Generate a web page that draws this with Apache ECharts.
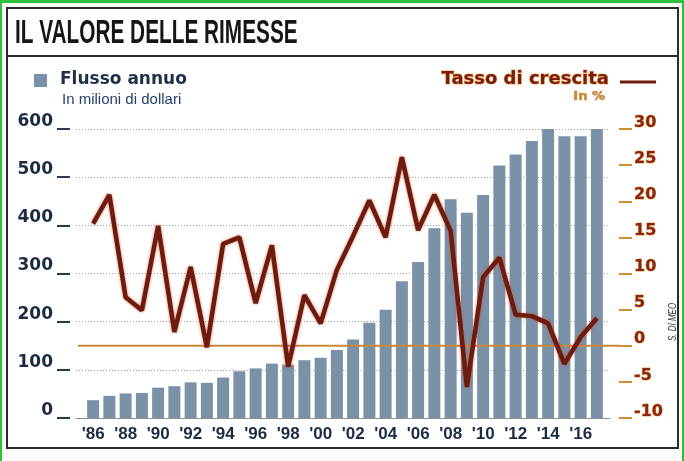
<!DOCTYPE html>
<html>
<head>
<meta charset="utf-8">
<script src="https://cdn.jsdelivr.net/npm/echarts@6/dist/echarts.min.js"></script>
<style>
  html, body { margin: 0; padding: 0; background: #fbfbf7; }
  #chart { width: 684px; height: 461px; }
</style>
</head>
<body>
<div id="chart"></div>
<script>
// Years 1986-2017
const years = ["'86","'87","'88","'89","'90","'91","'92","'93","'94","'95","'96","'97","'98","'99","'00","'01",
               "'02","'03","'04","'05","'06","'07","'08","'09","'10","'11","'12","'13","'14","'15","'16","'17"];

// Annual flow, millions of dollars (left axis)
const flows = [37, 46, 51, 52, 63, 66, 74, 73, 84, 97, 103, 113, 111, 120, 125, 141,
               163, 198, 225, 284, 324, 394, 454, 426, 463, 524, 547, 575, 601, 585, 585, 604];

// Growth rate, % (right axis)
const growth = [16.9, 20.9, 6.7, 4.9, 16.6, 1.9, 10.9, -0.2, 14.1, 15.0, 5.9, 13.9, -2.9, 7.0, 3.1, 10.5,
                15.2, 20.1, 15.0, 26.1, 16.0, 20.9, 15.9, -5.7, 9.5, 12.2, 4.3, 4.1, 3.1, -2.5, 1.2, 3.8];

// Axis ranges
const flowTicks = [0, 100, 200, 300, 400, 500, 600];
const rateTicks = [-10, -5, 0, 5, 10, 15, 20, 25, 30];

const NAVY = '#1c2b44';
const BROWN = '#6e1b0f';
const ORANGE = '#d38d33';
const PLOT_TOP = 129, PLOT_H = 289;

const chart = echarts.init(document.getElementById('chart'), null, { renderer: 'canvas' });

chart.setOption({
  backgroundColor: '#fbfbf7',
  animation: false,
  grid: [
    { left: 85, width: 520, top: PLOT_TOP, height: PLOT_H },   // bars + line
    { left: 76, width: 534, top: PLOT_TOP, height: PLOT_H },   // dotted gridlines
    { left: 78, width: 542, top: PLOT_TOP, height: PLOT_H }    // zero-growth line
  ],
  xAxis: [
    {
      gridIndex: 0, type: 'category', data: years,
      axisLine: { show: false }, axisTick: { show: false },
      axisLabel: {
        interval: 1, margin: 8, color: NAVY,
        fontFamily: 'Liberation Sans', fontWeight: 'bold', fontSize: 17
      }
    },
    {
      gridIndex: 1, type: 'value', min: 0, max: 1,
      axisLine: { show: true, lineStyle: { color: '#8a8f96', width: 1 } },
      axisTick: { show: false }, axisLabel: { show: false }, splitLine: { show: false }
    },
    {
      gridIndex: 2, type: 'value', min: 0, max: 1, show: false
    }
  ],
  yAxis: [
    {
      gridIndex: 0, type: 'value', position: 'left', offset: 15,
      min: flowTicks[0], max: flowTicks[flowTicks.length - 1], interval: flowTicks[1] - flowTicks[0],
      axisLine: { show: false },
      axisTick: { show: true, length: 13, lineStyle: { color: '#2b3a52', width: 2 } },
      axisLabel: {
        margin: 17, color: NAVY, fontFamily: 'DejaVu Sans', fontWeight: 'bold', fontSize: 17,
        verticalAlign: 'bottom', lineHeight: 15
      },
      splitLine: { show: false }
    },
    {
      gridIndex: 0, type: 'value', position: 'right', offset: 14,
      min: rateTicks[0], max: rateTicks[rateTicks.length - 1], interval: rateTicks[1] - rateTicks[0],
      axisLine: { show: false },
      axisTick: { show: true, length: 13, lineStyle: { color: ORANGE, width: 2 } },
      axisLabel: {
        margin: 15, color: '#8a2511', fontFamily: 'DejaVu Sans', fontWeight: 'bold', fontSize: 16,
        textBorderColor: 'rgba(235,150,50,0.85)', textBorderWidth: 1,
        verticalAlign: 'bottom', lineHeight: 13
      },
      splitLine: { show: false }
    },
    {
      gridIndex: 1, type: 'value',
      min: flowTicks[0], max: flowTicks[flowTicks.length - 1], interval: flowTicks[1] - flowTicks[0],
      axisLine: { show: false }, axisTick: { show: false }, axisLabel: { show: false },
      splitLine: { show: true, lineStyle: { color: '#9ca0a6', width: 1, type: [1, 2] } }
    },
    {
      gridIndex: 2, type: 'value',
      min: rateTicks[0], max: rateTicks[rateTicks.length - 1], show: false, splitLine: { show: false }
    }
  ],
  series: [
    {
      name: 'Flusso annuo', type: 'bar', xAxisIndex: 0, yAxisIndex: 0,
      data: flows, barWidth: 12, z: 2,
      itemStyle: { color: '#7b91a8' }
    },
    {
      name: 'Zero', type: 'line', xAxisIndex: 2, yAxisIndex: 3,
      data: [[0, 0], [1, 0]], symbol: 'none', silent: true, z: 3,
      lineStyle: { color: '#c8873a', width: 2 }
    },
    {
      name: 'Tasso di crescita', type: 'line', xAxisIndex: 0, yAxisIndex: 1,
      data: growth, symbol: 'none', z: 4,
      lineStyle: {
        color: BROWN, width: 4.5,
        shadowColor: 'rgba(200,70,25,0.75)', shadowBlur: 3
      }
    }
  ],
  graphic: [
    // page border and frame
    { type: 'rect', shape: { x: 0, y: 0, width: 684, height: 3 }, style: { fill: '#2cc23b' }, silent: true },
    { type: 'rect', shape: { x: 0, y: 0, width: 2, height: 461 }, style: { fill: '#2cc23b' }, silent: true },
    { type: 'rect', shape: { x: 682, y: 0, width: 2, height: 461 }, style: { fill: '#2cc23b' }, silent: true },
    { type: 'rect', z: -10, shape: { x: 7, y: 8, width: 671, height: 440 },
      style: { fill: '#ffffff', stroke: '#2a2a2a', lineWidth: 2 }, silent: true },
    { type: 'line', shape: { x1: 7, y1: 56, x2: 678, y2: 56 },
      style: { stroke: '#2a2a2a', lineWidth: 2 }, silent: true },
    // title (condensed by horizontal scaling)
    { type: 'text', x: 15, y: 34, scaleX: 0.63,
      style: { text: 'IL VALORE DELLE RIMESSE', fill: '#161616',
        font: 'bold 33px "Liberation Sans"', textAlign: 'left', textVerticalAlign: 'middle' }, silent: true },
    // left legend
    { type: 'rect', shape: { x: 34, y: 74, width: 13, height: 13 }, style: { fill: '#7b91a8' }, silent: true },
    { type: 'text', x: 60, y: 80,
      style: { text: 'Flusso annuo', fill: '#1f2f4a', font: 'bold 17px "DejaVu Sans"',
        textAlign: 'left', textVerticalAlign: 'middle' }, silent: true },
    { type: 'text', x: 62, y: 100,
      style: { text: 'In milioni di dollari', fill: '#26406a', font: '15px "Liberation Sans"',
        textAlign: 'left', textVerticalAlign: 'middle' }, silent: true },
    // right legend
    { type: 'text', x: 609, y: 79,
      style: { text: 'Tasso di crescita', fill: '#7a1c0e', font: 'bold 18px "DejaVu Sans"',
        textAlign: 'right', textVerticalAlign: 'middle',
        stroke: 'rgba(235,150,50,0.8)', lineWidth: 1.2 }, silent: true },
    { type: 'line', shape: { x1: 620, y1: 82, x2: 656, y2: 82 },
      style: { stroke: BROWN, lineWidth: 3 }, silent: true },
    { type: 'text', x: 605, y: 97,
      style: { text: 'In %', fill: '#cf8a2a', font: 'bold 13px "DejaVu Sans"',
        textAlign: 'right', textVerticalAlign: 'middle',
        stroke: 'rgba(140,40,15,0.6)', lineWidth: 0.6 }, silent: true },
    // credit
    { type: 'text', x: 673, y: 322, rotation: Math.PI / 2, scaleX: 0.8,
      style: { text: 'S. DI MEO', fill: '#333333', font: 'italic 10px "Liberation Sans"',
        textAlign: 'center', textVerticalAlign: 'middle' }, silent: true }
  ]
});
</script>
</body>
</html>
